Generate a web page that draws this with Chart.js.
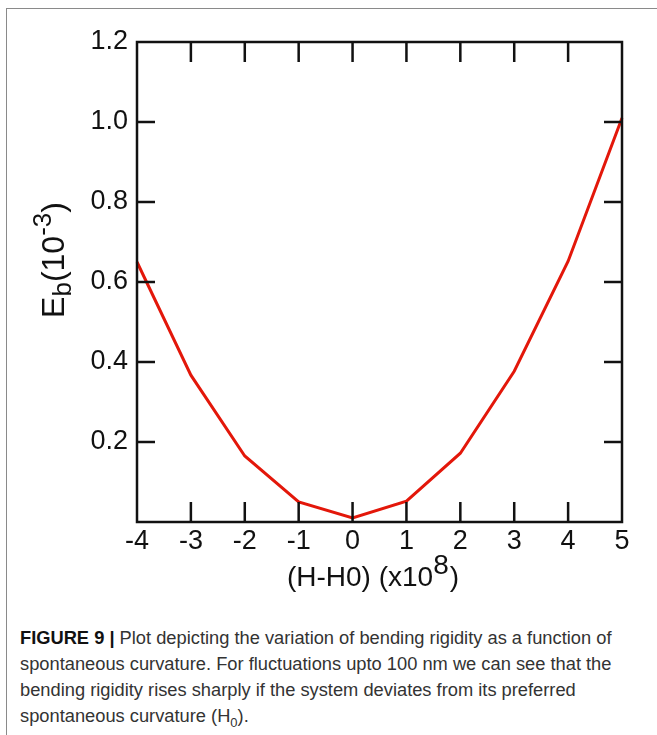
<!DOCTYPE html>
<html>
<head>
<meta charset="utf-8">
<script src="https://cdn.jsdelivr.net/npm/chart.js@4/dist/chart.umd.min.js"></script>
<style>
	body { margin: 0; background: #fff; width: 657px; height: 735px; overflow: hidden; position: relative; }
	#frame { position: absolute; left: 6px; top: 8px; width: 700px; height: 800px; border-top: 1px solid #8a8a8a; border-left: 1px solid #8a8a8a; }
	#chart { position: absolute; left: 0; top: 0; }
	#caption { position: absolute; left: 20px; top: 625px; width: 630px; font-family: "Liberation Sans", Arial, sans-serif; font-size: 18.3px; line-height: 26px; color: #333; }
	#caption b { color: #111; }
	#caption sub { font-size: 13px; line-height: 0; }
</style>
</head>
<body>
<div id="frame"></div>
<canvas id="chart" width="657" height="600"></canvas>
<div id="caption"><b>FIGURE 9 |</b> Plot depicting the variation of bending rigidity as a function of spontaneous curvature. For fluctuations upto 100 nm we can see that the bending rigidity rises sharply if the system deviates from its preferred spontaneous curvature (H<sub>0</sub>).</div>
<script>

// data
var hValues = [-4, -3, -2, -1, 0, 1, 2, 3, 4, 5];
var ebValues = [0.65, 0.367, 0.165, 0.05, 0.01, 0.052, 0.172, 0.377, 0.652, 1.01];
var xTicks = [-4, -3, -2, -1, 0, 1, 2, 3, 4, 5];
var yTicks = [0.2, 0.4, 0.6, 0.8, 1.0, 1.2];

var FONT = '"Liberation Sans", Arial, sans-serif';

var points = hValues.map(function(h, i){
	return { x: h, y: ebValues[i] };
});

// frame, inward ticks and the axis titles
var framePlugin = {
	id: 'frame',
	afterDraw: function(chart){
		var ctx = chart.ctx;
		var a = chart.chartArea;
		var xs = chart.scales.x;
		var ys = chart.scales.y;

		ctx.save();
		ctx.strokeStyle = '#111';
		ctx.lineWidth = 2.5;
		ctx.strokeRect(a.left, a.top, a.right - a.left, a.bottom - a.top);

		ctx.beginPath();
		xTicks.forEach(function(v){
			if(v == xs.min || v == xs.max) return;
			var px = xs.getPixelForValue(v);
			ctx.moveTo(px, a.bottom);
			ctx.lineTo(px, a.bottom - 20);
			ctx.moveTo(px, a.top);
			ctx.lineTo(px, a.top + 20);
		});
		yTicks.forEach(function(v){
			if(v >= ys.max) return;
			var py = ys.getPixelForValue(v);
			ctx.moveTo(a.left, py);
			ctx.lineTo(a.left + 18, py);
			ctx.moveTo(a.right, py);
			ctx.lineTo(a.right - 18, py);
		});
		ctx.stroke();

		// x title: (H-H0) (x10^8)
		ctx.fillStyle = '#111';
		ctx.textBaseline = 'alphabetic';
		ctx.font = '28px ' + FONT;
		var p1 = '(H-H0) (x10', sup = '8', p2 = ')';
		var w1 = ctx.measureText(p1).width;
		var ws = ctx.measureText(sup).width;
		var w2 = ctx.measureText(p2).width;
		var x0 = (a.left + a.right) / 2 - (w1 + ws + w2) / 2 - 7;
		var yb = 586;
		ctx.fillText(p1, x0, yb);
		ctx.fillText(sup, x0 + w1, yb - 12);
		ctx.fillText(p2, x0 + w1 + ws + 1, yb);

		// y title: Eb(10^-3), rotated
		ctx.translate(64, 260);
		ctx.rotate(-Math.PI / 2);
		var parts = [
			{ t: 'E', size: 32, dy: 0 },
			{ t: 'b', size: 26, dy: 7 },
			{ t: '(10', size: 32, dy: 0 },
			{ t: '-3', size: 26, dy: -13 },
			{ t: ')', size: 32, dy: 0 }
		];
		var total = 0;
		parts.forEach(function(p){
			ctx.font = p.size + 'px ' + FONT;
			p.w = ctx.measureText(p.t).width;
			total += p.w;
		});
		var cx = -total / 2;
		parts.forEach(function(p){
			ctx.font = p.size + 'px ' + FONT;
			ctx.fillText(p.t, cx, p.dy);
			cx += p.w;
		});
		ctx.restore();
	}
};

new Chart(document.getElementById('chart').getContext('2d'), {
	type: 'line',
	data: {
		datasets: [
			{
				data: points,
				borderColor: '#e3170a',
				borderWidth: 3,
				pointRadius: 0,
				tension: 0,
				clip: false
			}
		]
	},
	options: {
		responsive: false,
		animation: false,
		layout: { padding: { top: 42, right: 35, left: 0, bottom: 0 } },
		plugins: { legend: { display: false }, tooltip: { enabled: false } },
		scales: {
			x: {
				type: 'linear',
				min: -4,
				max: 5,
				afterFit: function(scale){ scale.height = 78; },
				afterBuildTicks: function(scale){
					scale.ticks = xTicks.map(function(v){ return { value: v }; });
				},
				grid: { display: false, drawTicks: false },
				border: { display: false },
				ticks: {
					padding: 3,
					color: '#111',
					font: { family: FONT, size: 27 },
					callback: function(v){ return String(v); }
				}
			},
			y: {
				min: 0,
				max: 1.2,
				afterFit: function(scale){ scale.width = 137; },
				afterBuildTicks: function(scale){
					scale.ticks = yTicks.map(function(v){ return { value: v }; });
				},
				grid: { display: false, drawTicks: false },
				border: { display: false },
				ticks: {
					padding: 9,
					color: '#111',
					font: { family: FONT, size: 27 },
					callback: function(v){ return v.toFixed(1); }
				}
			}
		}
	},
	plugins: [framePlugin]
});
</script>
</body>
</html>
